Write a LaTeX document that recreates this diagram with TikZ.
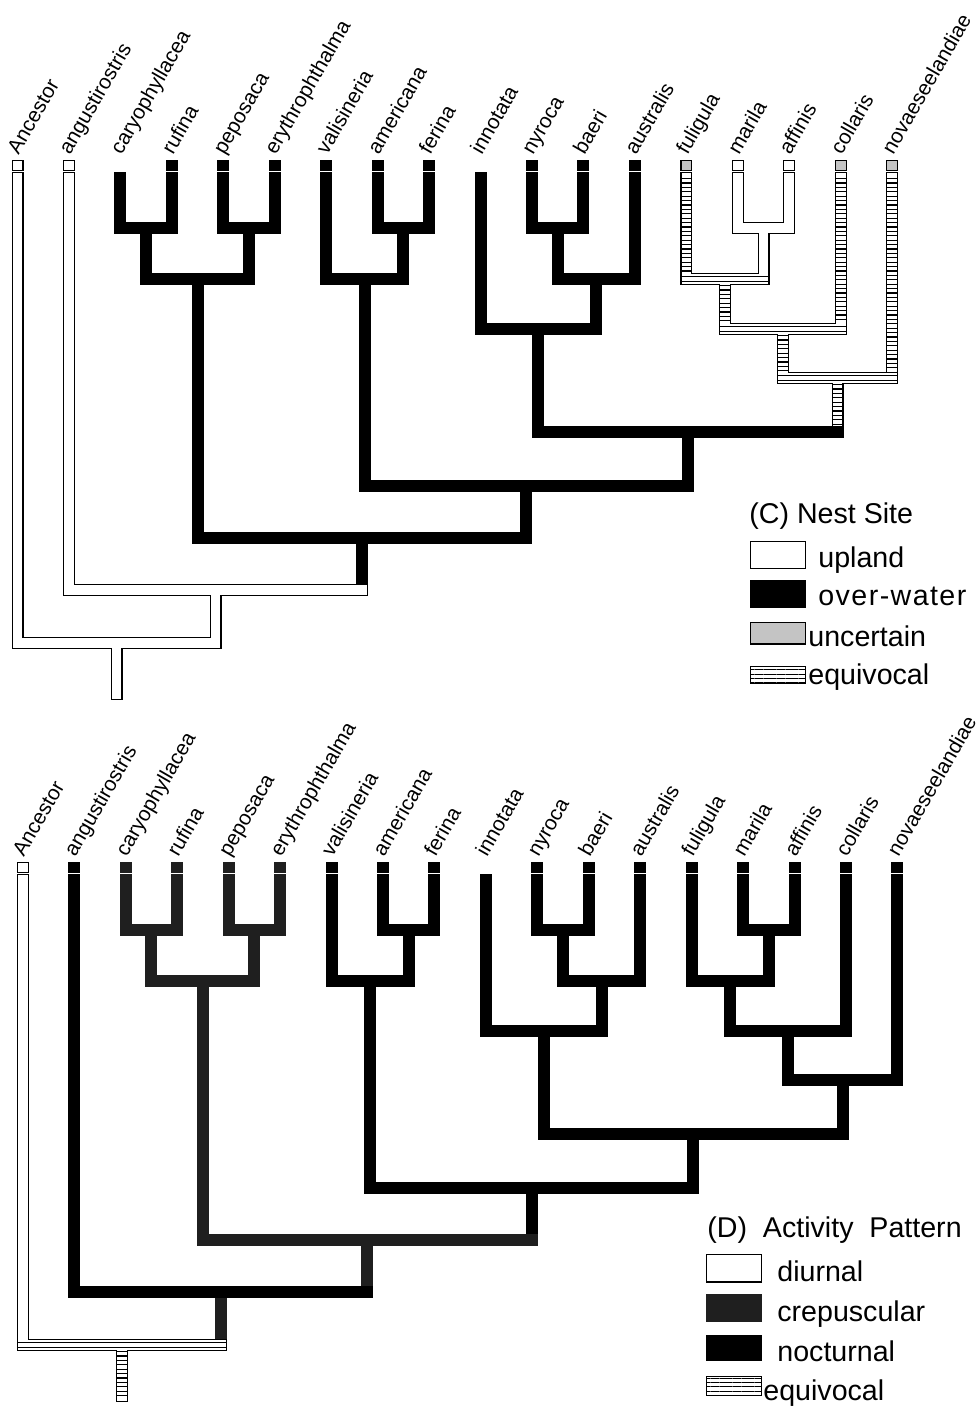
\documentclass[tikz,border=0pt]{standalone}
\usepackage{fontspec}
\setmainfont{Liberation Sans}
\usetikzlibrary{calc,patterns.meta}

% node places of one tree (frame of panel C)
\newcommand{\cladenodes}[1]{%
  \foreach \n [count=\i from 0] in {anc,ang,car,ruf,pep,ery,val,ame,fer,inn,nyr,bae,aus,ful,mar,aff,col,nov}
    {\coordinate (#1\n) at ({17.5+51.45*\i},178);}
  \coordinate (#1cr) at (146.1,228); \coordinate (#1pe) at (249.0,228);
  \coordinate (#1af) at (403.4,228); \coordinate (#1nb) at (557.7,228);
  \coordinate (#1ma) at (763.5,228);
  \coordinate (#1cp) at (197.6,279); \coordinate (#1va) at (364.8,279);
  \coordinate (#1nba) at (596.3,279); \coordinate (#1fma) at (724.9,279);
  \coordinate (#1ia) at (538.4,329); \coordinate (#1fmc) at (782.8,329);
  \coordinate (#1fcn) at (837.5,378);
  \coordinate (#1poc) at (688.0,432);
  \coordinate (#1vp) at (526.4,486);
  \coordinate (#1cv) at (362.0,538);
  \coordinate (#1acv) at (215.5,590);
  \coordinate (#1root) at (116.5,643); \coordinate (#1base) at (116.5,694);
  \coordinate (#1cvend) at (362.0,578); \coordinate (#1acvend) at (215.5,631);
}

\begin{document}
\begin{tikzpicture}[x=0.5pt, y=-0.5pt,
  solidbar/.style={draw=black, line width=6pt, line cap=rect, line join=miter},
  duskbar/.style={solidbar, draw=black!88},
  barrim/.style={solidbar},
  barfill/.style={solidbar, draw=white, line width=4.8pt},
  barrung/.style={draw=black, line width=4.8pt, dash pattern=on 0.6pt off 1.6pt},
  barseam/.style={draw=black, line width=0.5pt, double=white, double distance=1.7pt},
  openbox/.style={draw, line width=0.6pt, fill=white, inner sep=0pt, minimum width=5.4pt, minimum height=4.9pt},
  solidbox/.style={fill=black, inner sep=0pt, minimum width=6pt, minimum height=5.5pt},
  duskbox/.style={solidbox, fill=black!88},
  dotbox/.style={openbox, pattern={Dots[distance=1pt, radius=0.35pt]}},
  taxon/.style={rotate=60, anchor=base west, inner sep=0pt, font=\fontsize{10.4}{12}\selectfont},
  keytext/.style={anchor=base west, inner sep=0pt, font=\fontsize{14.3}{16}\selectfont},
  keybox/.style={draw, line width=0.6pt, inner sep=0pt, minimum width=27.4pt}]
  \useasboundingbox (0,0) rectangle (979,1409);
  \cladenodes{C}
  \begin{scope}[shift={(5.3,702)}]
    \cladenodes{D}
  \end{scope}

  % names over the tips
  \foreach \p in {C,D}
    \foreach \n/\t in {anc/Ancestor, ang/angustirostris, car/caryophyllacea, ruf/rufina, pep/peposaca,
        ery/erythrophthalma, val/valisineria, ame/americana, fer/ferina, inn/innotata, nyr/nyroca,
        bae/baeri, aus/australis, ful/fuligula, mar/marila, aff/affinis, col/collaris, nov/novaeseelandiae}
      \node[taxon] (\p\n-lab) at ($(\p\n)+(1,-22)$) {\t};

  % (C) nest site: upland and equivocal parts
  \foreach \s in {barrim,barfill} {
    \draw[\s] (Canc) |- (Croot) -| (Cacv);
    \draw[\s] (Cang) |- (Cacv) -- (Ccv |- Cacv);
    \draw[\s] (Croot) -- (Cbase);
    \draw[\s] (Cmar) |- (Cma) -| (Caff);
    \draw[\s] (Cma) -- (Cma |- Cfma);
    \draw[\s] (Cful) |- (Cfma) -- (Cma |- Cfma);
    \draw[\s] (Cfma) |- (Cfmc) -| (Ccol);
    \draw[\s] (Cfmc) |- (Cfcn) -| (Cnov);
    \draw[\s] (Cfcn) -- (Cfcn |- Cpoc);
  }
  \draw[barrung, shorten >=3pt] (Cful) -- (Cful |- Cfma);
  \draw[barrung, shorten >=3pt] (Ccol) -- (Ccol |- Cfmc);
  \draw[barrung, shorten >=3pt] (Cnov) -- (Cnov |- Cfcn);
  \draw[barrung, shorten <=3pt, shorten >=3pt] (Cfma) -- (Cfma |- Cfmc);
  \draw[barrung, shorten <=3pt, shorten >=3pt] (Cfmc) -- (Cfmc |- Cfcn);
  \draw[barrung, shorten <=3pt, shorten >=3pt] (Cfcn) -- (Cfcn |- Cpoc);
  \draw[barseam] ($(Cful |- Cfma)+(-4.8,0)$) -- ($(Cma |- Cfma)+(4.8,0)$);
  \draw[barseam] ($(Cfma |- Cfmc)+(-4.8,0)$) -- ($(Ccol |- Cfmc)+(4.8,0)$);
  \draw[barseam] ($(Cfmc |- Cfcn)+(-4.8,0)$) -- ($(Cnov |- Cfcn)+(4.8,0)$);
  % (C) over-water parts
  \draw[solidbar] (Ccar) |- (Ccr) -| (Cruf);
  \draw[solidbar] (Cpep) |- (Cpe) -| (Cery);
  \draw[solidbar] (Ccr) |- (Ccp) -| (Cpe);
  \draw[solidbar] (Came) |- (Caf) -| (Cfer);
  \draw[solidbar] (Cval) |- (Cva) -| (Caf);
  \draw[solidbar] (Cnyr) |- (Cnb) -| (Cbae);
  \draw[solidbar] (Cnb) |- (Cnba) -| (Caus);
  \draw[solidbar] (Cinn) |- (Cia) -| (Cnba);
  \draw[solidbar] (Cia) |- (Cpoc) -- (Cfcn |- Cpoc);
  \draw[solidbar] (Cva) |- (Cvp) -| (Cpoc);
  \draw[solidbar] (Ccp) |- (Ccv) -| (Cvp);
  \draw[solidbar] (Ccv) -- (Ccvend);
  % (C) tip boxes
  \foreach \n in {anc,ang,mar,aff} \node[openbox] (C\n-box) at ($(C\n)+(0,-12.5)$) {};
  \foreach \n in {ruf,pep,ery,val,ame,fer,nyr,bae,aus} \node[solidbox] (C\n-box) at ($(C\n)+(0,-12.5)$) {};
  \foreach \n in {ful,col,nov} \node[dotbox] (C\n-box) at ($(C\n)+(0,-12.5)$) {};

  % (D) activity pattern: diurnal and equivocal parts
  \foreach \s in {barrim,barfill} {
    \draw[\s] (Danc) |- (Droot) -- (Dacv |- Droot);
    \draw[\s] (Droot) -- (Dbase);
  }
  \draw[barrung, shorten <=3pt] (Droot) -- (Dbase);
  \draw[barseam] ($(Danc |- Droot)+(-4.8,0)$) -- ($(Dacv |- Droot)+(4.8,0)$);
  % (D) nocturnal parts
  \draw[solidbar] (Dame) |- (Daf) -| (Dfer);
  \draw[solidbar] (Dval) |- (Dva) -| (Daf);
  \draw[solidbar] (Dnyr) |- (Dnb) -| (Dbae);
  \draw[solidbar] (Dnb) |- (Dnba) -| (Daus);
  \draw[solidbar] (Dinn) |- (Dia) -| (Dnba);
  \draw[solidbar] (Dmar) |- (Dma) -| (Daff);
  \draw[solidbar] (Dful) |- (Dfma) -| (Dma);
  \draw[solidbar] (Dfma) |- (Dfmc) -| (Dcol);
  \draw[solidbar] (Dfmc) |- (Dfcn) -| (Dnov);
  \draw[solidbar] (Dia) |- (Dpoc) -| (Dfcn);
  \draw[solidbar] (Dva) |- (Dvp) -| (Dpoc);
  \draw[solidbar] (Dvp) -- (Dvp |- Dcv);
  % (D) crepuscular parts
  \draw[duskbar] (Dcar) |- (Dcr) -| (Druf);
  \draw[duskbar] (Dpep) |- (Dpe) -| (Dery);
  \draw[duskbar] (Dcr) |- (Dcp) -| (Dpe);
  \draw[duskbar] (Dcp) |- (Dcv) -- (Dvp |- Dcv);
  \draw[duskbar] (Dcv) -- (Dcv |- Dacv);
  \draw[duskbar] (Dacv) -- (Dacvend);
  \draw[solidbar] (Dang) |- (Dacv) -- (Dcv |- Dacv);
  % (D) tip boxes
  \node[openbox] (Danc-box) at ($(Danc)+(0,-12.5)$) {};
  \foreach \n in {car,ruf,pep,ery} \node[duskbox] (D\n-box) at ($(D\n)+(0,-12.5)$) {};
  \foreach \n in {ang,val,ame,fer,nyr,bae,aus,ful,mar,aff,col,nov} \node[solidbox] (D\n-box) at ($(D\n)+(0,-12.5)$) {};

  % legend (C)
  \node[keytext] (Ckey) at (749,523) {(C) Nest Site};
  \node[keybox, fill=white, minimum height=13.4pt] (Cupl) at (778,555) {};
  \node[keybox, draw=none, fill=black, minimum width=28pt, minimum height=14pt] (Cowa) at (778,594) {};
  \node[keybox, pattern={Dots[distance=1pt, radius=0.35pt]}, minimum height=10.9pt] (Cunc) at (778,633) {};
  \node[keybox, pattern={Lines[distance=2.2pt, line width=0.5pt]}, minimum height=8.4pt] (Cequ) at (778,675) {};
  \node[keytext] (Cupl-t) at (818,567) {upland};
  \node[keytext] (Cowa-t) at (818,605) {\addfontfeature{LetterSpace=5}over-water};
  \node[keytext] (Cunc-t) at (808,646) {uncertain};
  \node[keytext] (Cequ-t) at (808,684) {equivocal};

  % legend (D)
  \node[keytext] (Dkey) at (707,1237) {(D)\ \ Activity\ \ Pattern};
  \node[keybox, fill=white, minimum height=13.9pt] (Ddiu) at (734,1268) {};
  \node[keybox, draw=none, fill=black!88, minimum width=28pt, minimum height=14pt] (Dcre) at (734,1308) {};
  \node[keybox, draw=none, fill=black, minimum width=28pt, minimum height=13pt] (Dnoc) at (734,1348) {};
  \node[keybox, pattern={Lines[distance=2.2pt, line width=0.5pt]}, minimum height=9.4pt] (Dequ) at (734,1386) {};
  \node[keytext] (Ddiu-t) at (777,1281) {diurnal};
  \node[keytext] (Dcre-t) at (777,1321) {crepuscular};
  \node[keytext] (Dnoc-t) at (777,1361) {nocturnal};
  \node[keytext] (Dequ-t) at (763,1400) {equivocal};
\end{tikzpicture}
\end{document}
